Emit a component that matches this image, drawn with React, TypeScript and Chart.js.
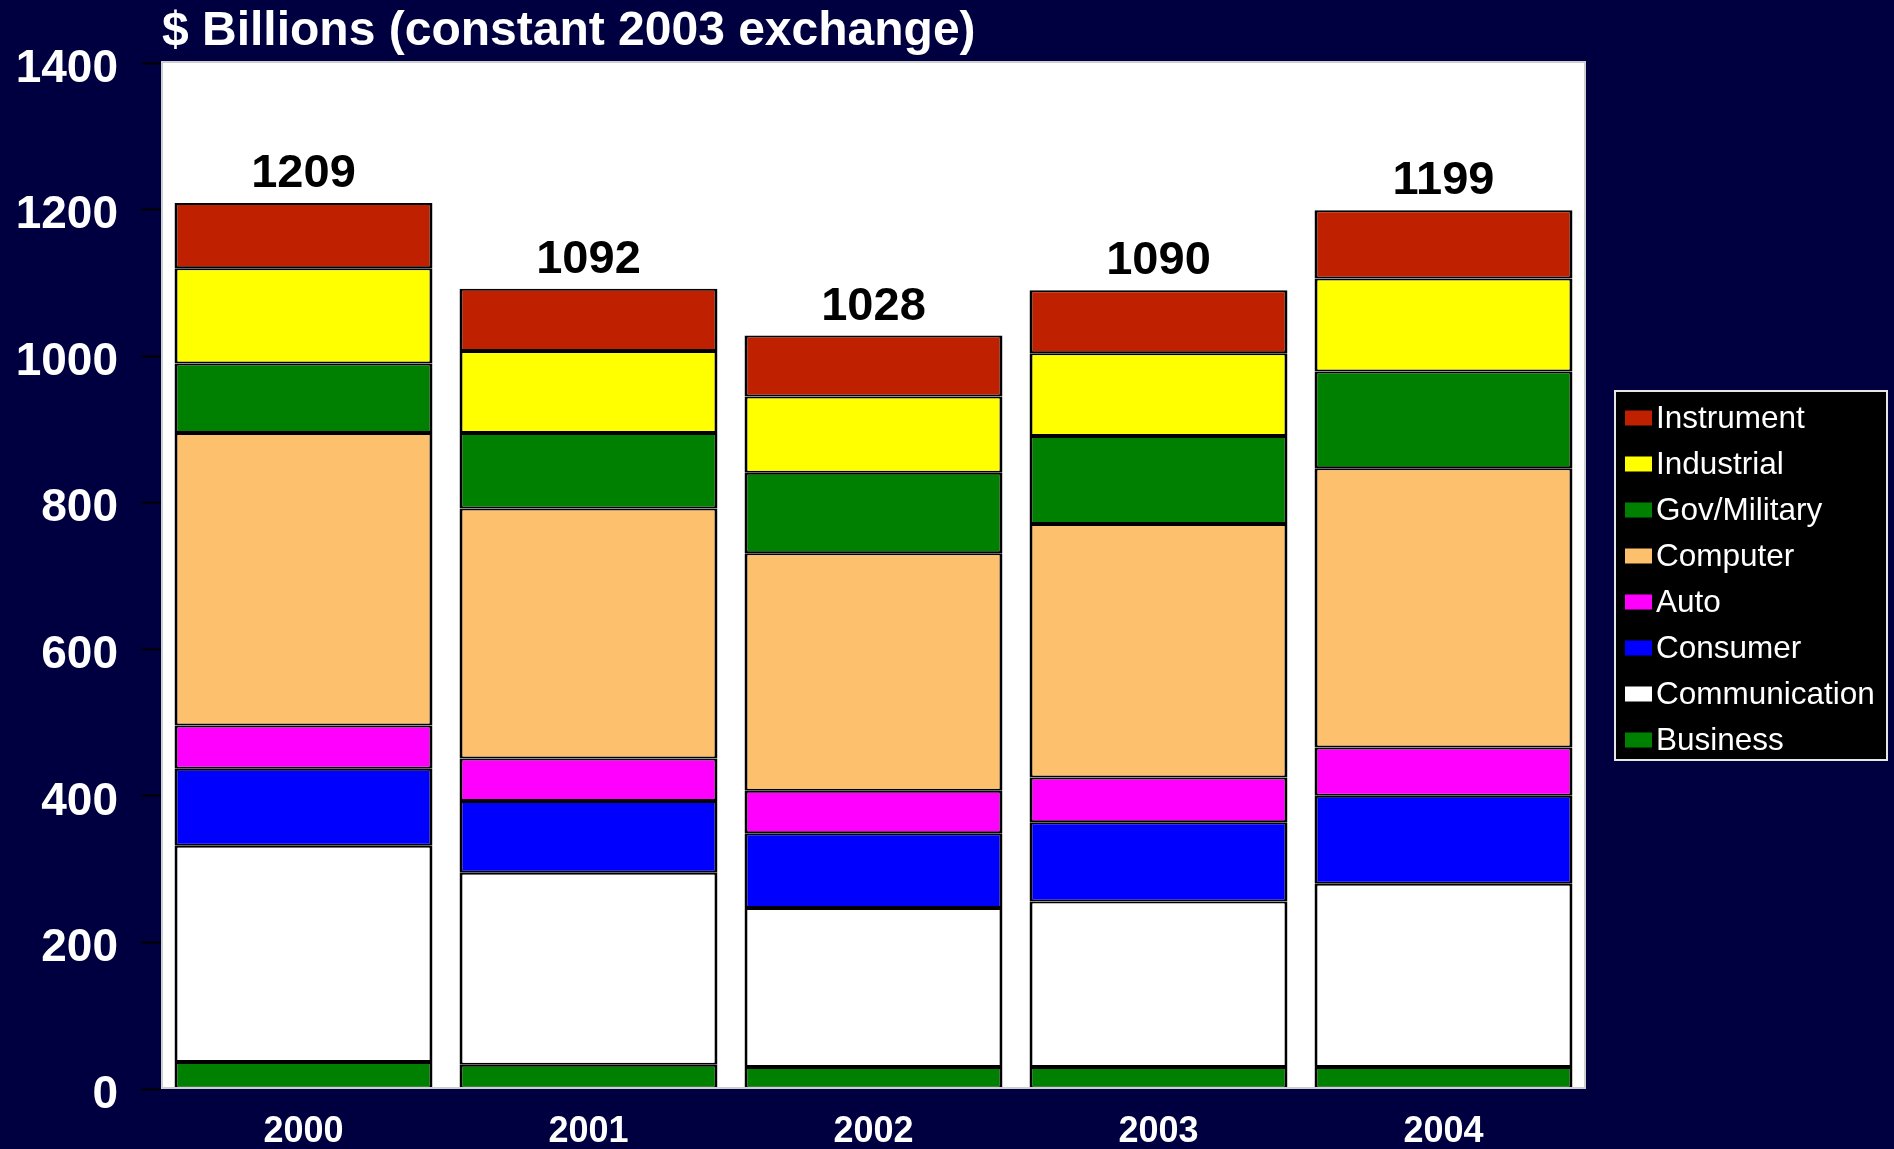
import React, { useEffect, useRef } from 'react';
import { Chart, registerables } from 'chart.js';

Chart.register(...registerables);

const FONT = "'Liberation Sans', Arial, Helvetica, sans-serif";
const BG = '#000040';

// Categories
const years = ['2000', '2001', '2002', '2003', '2004'];

// Series values ($ billions), stacked bottom to top
const business = [37, 33, 30, 30, 30];
const communication = [295, 262, 217, 226, 250];
const consumer = [105, 98, 102, 108, 120];
const auto = [59, 58, 58, 61, 66];
const computer = [399, 341, 324, 346, 381];
const govMilitary = [95, 103, 110, 120, 132];
const industrial = [130, 112, 104, 113, 127];
const instrument = [89, 85, 83, 86, 93];

// Totals shown above bars
const totals = [1209, 1092, 1028, 1090, 1199];

// Y axis
const yMin = 0;
const yMax = 1400;
const yStep = 200;

const seriesNames = ['Business', 'Communication', 'Consumer', 'Auto', 'Computer', 'Gov/Military', 'Industrial', 'Instrument'];
const seriesValues = [business, communication, consumer, auto, computer, govMilitary, industrial, instrument];
const seriesColors = ['#008000', '#FFFFFF', '#0000FF', '#FF00FF', '#FDC06C', '#008000', '#FFFF00', '#BF2000'];

const titleText = '$ Billions (constant 2003 exchange)';

const decorPlugin = {
  id: 'decor',
  beforeDraw(chart: any) {
    const { ctx, chartArea: a, width, height } = chart;
    ctx.save();
    ctx.fillStyle = BG;
    ctx.fillRect(0, 0, width, height);
    ctx.fillStyle = '#FFFFFF';
    ctx.fillRect(a.left, a.top - 2, a.right - a.left, a.bottom - a.top + 2);
    // title
    ctx.fillStyle = '#FFFFFF';
    ctx.font = `bold 48px ${FONT}`;
    ctx.textAlign = 'left';
    ctx.textBaseline = 'alphabetic';
    ctx.fillText(titleText, a.left + 1, 45);
    ctx.restore();
  },
  afterDatasetsDraw(chart: any) {
    const { ctx, chartArea: a } = chart;
    ctx.save();
    // plot border
    ctx.strokeStyle = '#CFCFCF';
    ctx.lineWidth = 2;
    ctx.strokeRect(a.left + 1, a.top - 1, a.right - a.left - 2, a.bottom - a.top);
    // totals
    const meta = chart.getDatasetMeta(chart.data.datasets.length - 1);
    ctx.fillStyle = '#000000';
    ctx.font = `bold 47px ${FONT}`;
    ctx.textAlign = 'center';
    ctx.textBaseline = 'alphabetic';
    meta.data.forEach((el: any, i: number) => {
      ctx.fillText(String(totals[i]), el.x, el.y - 16);
    });
    ctx.restore();
  },
  afterDraw(chart: any) {
    const { ctx, chartArea: a } = chart;
    ctx.save();
    const lx = a.right + 29;
    const ly = 391;
    const lw = 272;
    const lh = 369;
    ctx.fillStyle = '#000000';
    ctx.fillRect(lx, ly, lw, lh);
    ctx.strokeStyle = '#E6E6E6';
    ctx.lineWidth = 2;
    ctx.strokeRect(lx, ly, lw, lh);
    ctx.font = `31.5px ${FONT}`;
    ctx.textAlign = 'left';
    ctx.textBaseline = 'middle';
    const n = seriesNames.length;
    for (let k = 0; k < n; k++) {
      const idx = n - 1 - k;
      const cy = ly + 27 + k * 46;
      ctx.fillStyle = seriesColors[idx];
      ctx.fillRect(lx + 10, cy - 7.5, 27, 15);
      ctx.fillStyle = '#FFFFFF';
      ctx.fillText(seriesNames[idx], lx + 41, cy + 1.5);
    }
    ctx.restore();
  },
};

export default function App() {
  const canvasRef = useRef<HTMLCanvasElement | null>(null);

  useEffect(() => {
    document.body.style.margin = '0';
    document.body.style.overflow = 'hidden';
    document.body.style.background = BG;
    const canvas = canvasRef.current;
    if (!canvas) return;
    const chart = new Chart(canvas, {
      type: 'bar',
      data: {
        labels: years,
        datasets: seriesNames.map((name, i) => ({
          label: name,
          data: seriesValues[i],
          backgroundColor: seriesColors[i],
          borderColor: '#000000',
          borderWidth: { left: 3, right: 3, top: 2, bottom: 2 },
          borderSkipped: false,
          barPercentage: 0.905,
          categoryPercentage: 1,
        })),
      },
      options: {
        responsive: false,
        animation: false,
        devicePixelRatio: 1,
        layout: { padding: { top: 63, right: 308, left: 0, bottom: 0 } },
        plugins: {
          legend: { display: false },
          title: { display: false },
          tooltip: { enabled: false },
        },
        scales: {
          x: {
            stacked: true,
            offset: true,
            grid: { display: false, drawTicks: false, tickLength: 0 },
            border: { display: false },
            ticks: {
              color: '#FFFFFF',
              font: { family: FONT, size: 36, weight: 'bold' },
              padding: 21,
              maxRotation: 0,
              autoSkip: false,
            },
            afterFit: (scale: any) => {
              scale.height = 60;
            },
          },
          y: {
            stacked: true,
            min: yMin,
            max: yMax,
            grid: {
              display: true,
              drawOnChartArea: false,
              drawTicks: true,
              tickLength: 20,
              tickColor: '#000000',
              tickWidth: 2,
            },
            border: { display: false },
            ticks: {
              stepSize: yStep,
              color: '#FFFFFF',
              font: { family: FONT, size: 46, weight: 'bold' },
              padding: 23,
              labelOffset: 6,
              callback: (v: any) => String(v),
            },
            afterFit: (scale: any) => {
              scale.width = 161;
            },
          },
        },
      },
      plugins: [decorPlugin],
    });
    return () => chart.destroy();
  }, []);

  return (
    <div style={{ width: 1894, height: 1149, background: BG, overflow: 'hidden' }}>
      <canvas ref={canvasRef} width={1894} height={1149} style={{ display: 'block' }} />
    </div>
  );
}
